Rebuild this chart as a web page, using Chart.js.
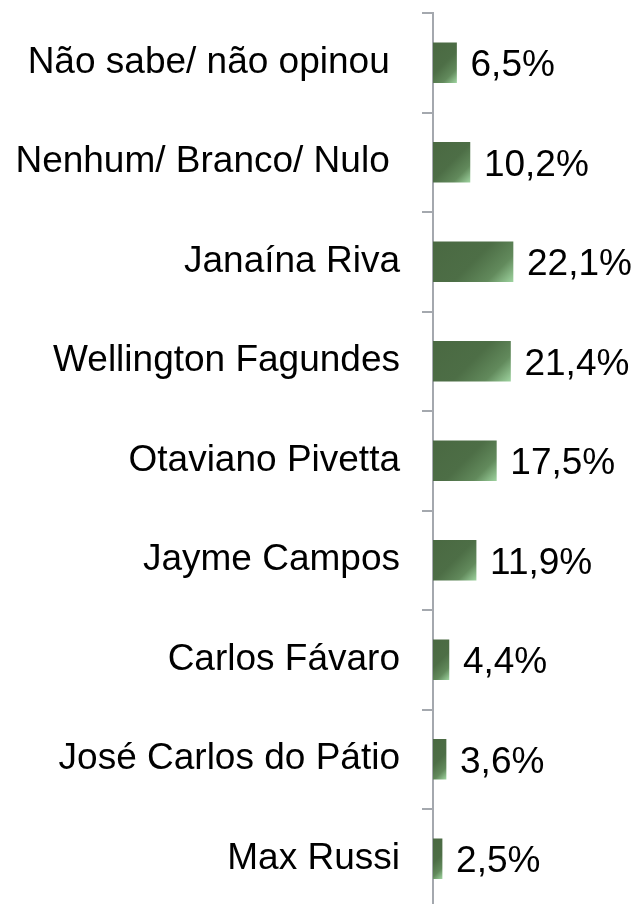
<!DOCTYPE html>
<html>
<head>
<meta charset="utf-8">
<script src="https://cdn.jsdelivr.net/npm/chart.js@4/dist/chart.umd.min.js"></script>
<style>
  html, body { margin: 0; padding: 0; background: #ffffff; overflow: hidden; }
  #wrap { position: relative; width: 640px; height: 912px; }
</style>
</head>
<body>
<div id="wrap"><canvas id="c"></canvas></div>
<script>
const categories = [
  "Não sabe/ não opinou ",
  "Nenhum/ Branco/ Nulo ",
  "Janaína Riva",
  "Wellington Fagundes",
  "Otaviano Pivetta",
  "Jayme Campos",
  "Carlos Fávaro",
  "José Carlos do Pátio",
  "Max Russi"
];
const values = [6.5, 10.2, 22.1, 21.4, 17.5, 11.9, 4.4, 3.6, 2.5];

const FONT = "'Liberation Sans', Arial, Helvetica, sans-serif";
const BAR_H = 40;
const DARK = '#4a6942';
const LIGHT = '#9dd29e';
const AXIS = '#a4a8ae';

function fmt(v) { return v.toFixed(1).replace('.', ',') + '%'; }

function barFill(ctx) {
  const chart = ctx.chart;
  const xs = chart.scales.x, ys = chart.scales.y;
  if (ctx.type !== 'data' || !xs || !ys) return DARK;
  const x0 = xs.getPixelForValue(0);
  const x1 = xs.getPixelForValue(ctx.raw);
  const yc = ys.getPixelForValue(ctx.dataIndex);
  if (!isFinite(x0) || !isFinite(x1) || !isFinite(yc)) return DARK;
  const y0 = yc - BAR_H / 2;
  const L = (x1 - x0) + BAR_H;
  const g = chart.ctx.createLinearGradient(x0, y0, x0 + L / 2, y0 + L / 2);
  g.addColorStop(0, DARK);
  g.addColorStop(0.5, '#4d6e46');
  g.addColorStop(0.78, '#628a5c');
  g.addColorStop(1, LIGHT);
  return g;
}

const valueLabels = {
  id: 'valueLabels',
  afterDatasetsDraw(chart) {
    const c = chart.ctx;
    const meta = chart.getDatasetMeta(0);
    c.save();
    c.font = '37px ' + FONT;
    c.fillStyle = '#000000';
    c.textAlign = 'left';
    c.textBaseline = 'alphabetic';
    meta.data.forEach((bar, i) => {
      c.fillText(fmt(values[i]), bar.x + 14, bar.y + 13.5);
    });
    c.restore();
  }
};

new Chart(document.getElementById('c'), {
  type: 'bar',
  data: {
    labels: categories,
    datasets: [{
      data: values,
      backgroundColor: barFill,
      borderWidth: 0,
      barThickness: BAR_H
    }]
  },
  options: {
    indexAxis: 'y',
    responsive: true,
    maintainAspectRatio: false,
    animation: false,
    layout: { autoPadding: false, padding: { top: 13, bottom: 3.5, left: 0, right: 26 } },
    plugins: {
      legend: { display: false },
      tooltip: { enabled: false },
      title: { display: false }
    },
    scales: {
      x: {
        display: false,
        min: 0,
        max: 50
      },
      y: {
        z: 1,
        afterFit(scale) { scale.width = 433; scale.paddingTop = 0; scale.paddingBottom = 0; },
        grid: {
          offset: true,
          drawOnChartArea: false,
          drawTicks: true,
          tickLength: 11,
          color: AXIS,
          lineWidth: 2
        },
        border: { display: true, color: AXIS, width: 2 },
        ticks: {
          color: '#000000',
          padding: 22,
          font: { family: FONT, size: 37 }
        }
      }
    }
  },
  plugins: [valueLabels]
});
</script>
</body>
</html>
